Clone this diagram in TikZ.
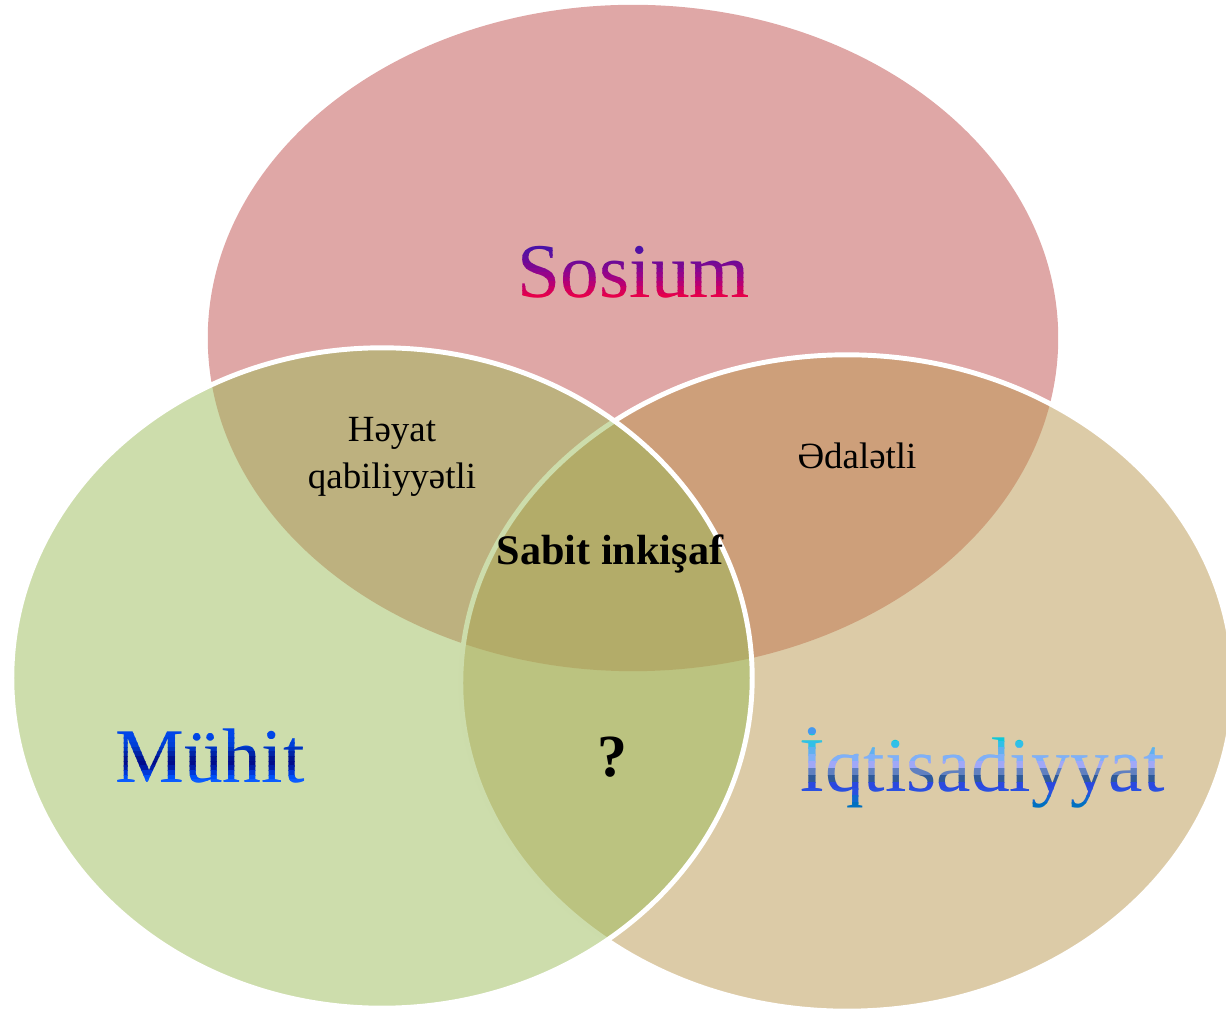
\documentclass[tikz,border=0pt]{standalone}
\usepackage{fontspec}
\setmainfont{Liberation Serif}
\usetikzlibrary{shapes.geometric, calc}

% fill colours (drawn at half opacity)
\definecolor{sosred}{HTML}{C0504D}
\definecolor{muhgreen}{HTML}{9BBB59}
\definecolor{iqttan}{HTML}{BA9750}

\newcommand\bigfont{\fontsize{22}{26}\selectfont}

\tikzset{
  circ/.style={ellipse, inner sep=0pt, fill opacity=0.5},
  rim/.style={draw=white, line width=1.4pt},
  bigtxt/.style={font=\bigfont, inner sep=0pt},
  smalltxt/.style={font=\fontsize{10.5}{13.4}\selectfont, align=center},
}

% title in 12 horizontal colour bands (top to bottom, hex colours)
\newcommand\gradtitle[3]{%
  \foreach \c [count=\i from 0,
      evaluate=\i as \lo using {ifthenelse(\i==0,-0.4,\i/12)},
      evaluate=\i as \hi using {ifthenelse(\i==11,1.4,(\i+1.1)/12)}] in {#3} {
    \definecolor{bandcol}{HTML}{\c}
    \begin{scope}
      \clip ($(#1.north west)!\lo!(#1.south west) + (-6pt,0)$)
        rectangle ($(#1.north east)!\hi!(#1.south east) + (6pt,0)$);
      \node[bigtxt, anchor=base, text=bandcol] (#1-\i) at (#1.base) {#2};
    \end{scope}
  }%
}

\begin{document}

\begin{tikzpicture}[x=0.01cm, y=-0.01cm]
  \useasboundingbox (0,0) rectangle (1226,1010);

  % the three sets
  \node[circ, fill=sosred, minimum width=8.5cm, minimum height=6.66cm] (sos) at (633,338) {};
  \node[circ, rim, fill=iqttan, minimum width=7.72cm, minimum height=6.56cm] (iqt) at (847,683) {};
  \node[circ, rim, fill=muhgreen, minimum width=7.4cm, minimum height=6.6cm] (muh) at (382,678) {};

  % titles
  \node[bigtxt, anchor=base] (sostxt) at (634,298) {\phantom{Sosium}};
  \gradtitle{sostxt}{Sosium}{4A12A8, 5510A2, 600E9E, 6C0A98, 7A0892, 880690,
    96048A, A50280, B60074, C80066, D80056, E6004A}
  \node[bigtxt, anchor=base] (muhtxt) at (210,783) {\phantom{Mühit}};
  \gradtitle{muhtxt}{Mühit}{0046E8, 0046E8, 0044E0, 0040D8, 0034C0, 0024A8,
    001490, 000C8C, 001CA8, 0038D8, 0050F8, 0A5CFF}
  \node[bigtxt, anchor=base] (iqttxt) at (982,792) {\phantom{İqtisadiyyat}};
  \gradtitle{iqttxt}{İqtisadiyyat}{4499F0, 10C8D8, 30C0E8, 60B0F0, 80B0F8, A0A8F8,
    6080C0, 2F5A9A, 2A48E0, 2A50E0, 1068D0, 0070C0}

  % overlaps
  \node[smalltxt] (hayat) at (392,457) {Həyat\\qabiliyyətli};
  \node[smalltxt, anchor=base] (adalet) at (857,469) {Ədalətli};
  \node[font=\fontsize{12}{14}\selectfont\bfseries, anchor=base] (sabit) at (610,565) {Sabit inkişaf};
  \node[font=\fontsize{17}{20}\selectfont\bfseries, anchor=base] (sual) at (612,777) {?};
\end{tikzpicture}

\end{document}
